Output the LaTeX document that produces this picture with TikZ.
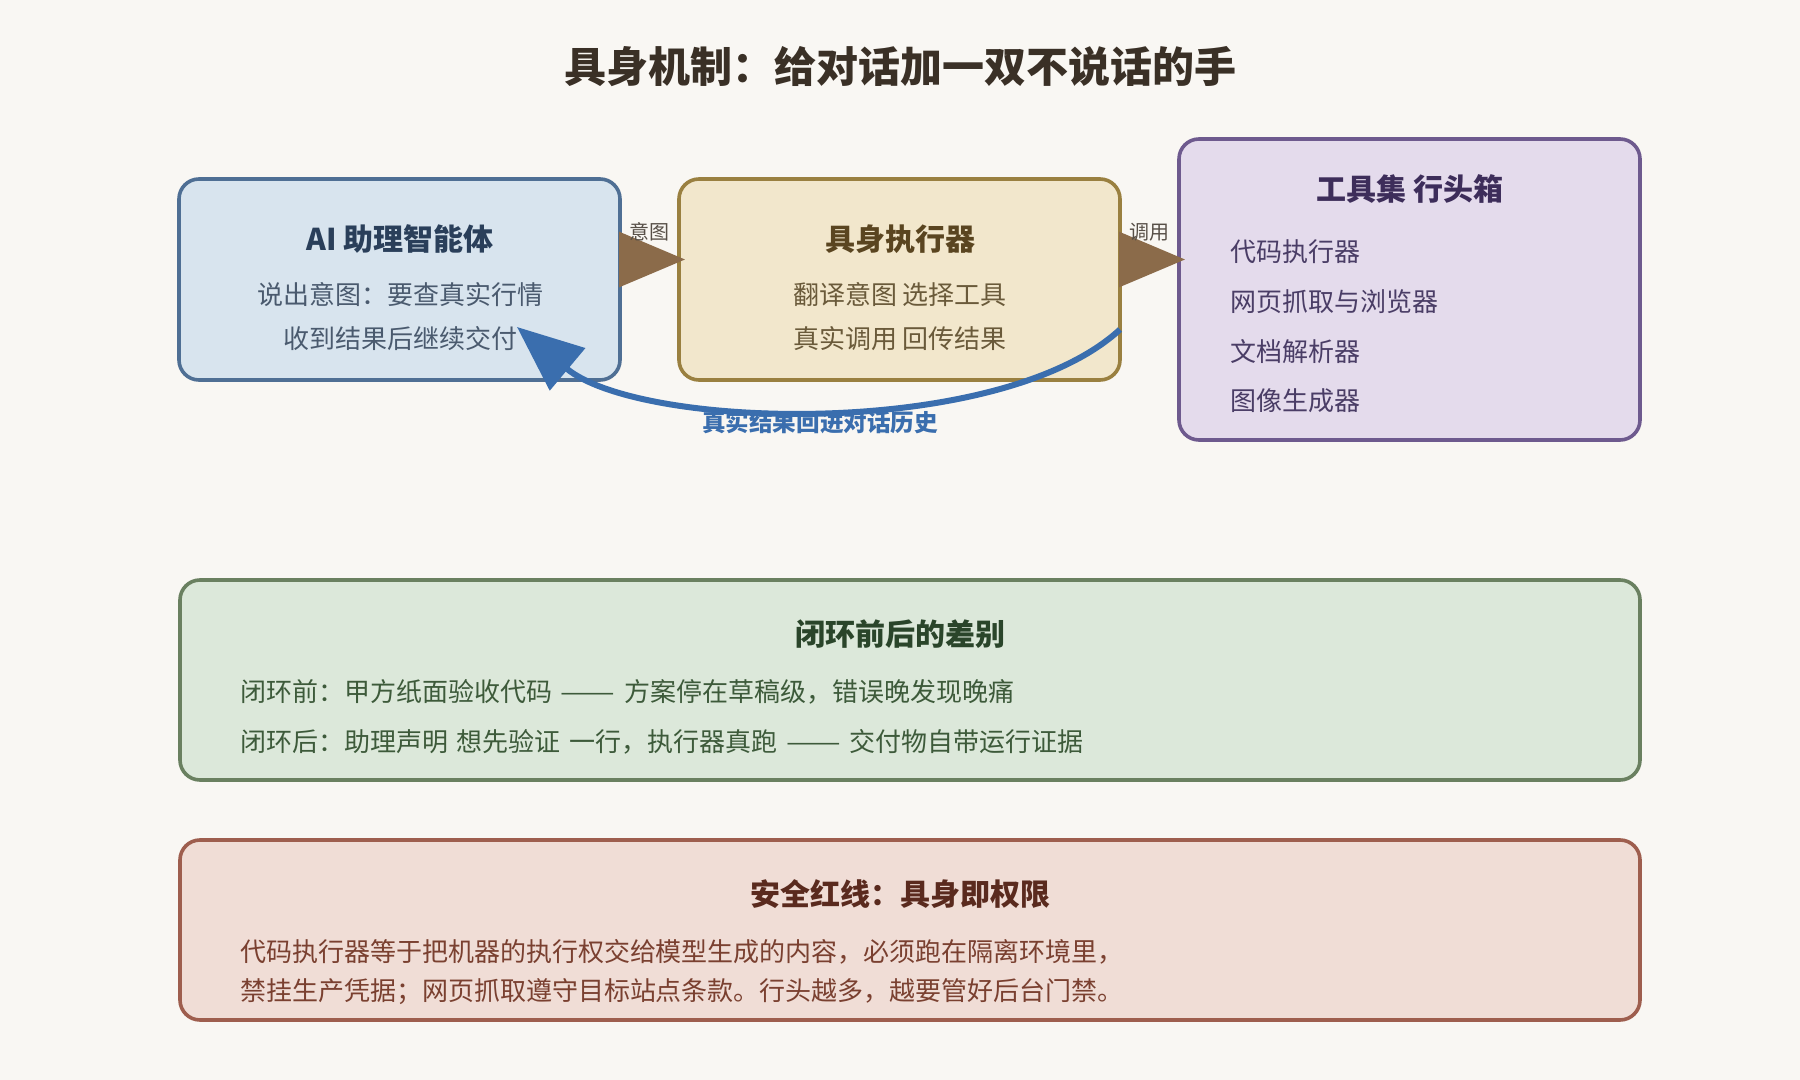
\documentclass[tikz,border=0pt]{standalone}
\usepackage{fontspec}
\setmainfont{Noto Sans CJK SC}
\usetikzlibrary{arrows.meta}
\definecolor{bg}{HTML}{F9F7F3}
\definecolor{ink}{HTML}{3A3026}
\definecolor{afill}{HTML}{D8E4EE}\definecolor{adraw}{HTML}{4F6F94}
\definecolor{atitle}{HTML}{2A3F5A}\definecolor{abody}{HTML}{4A5A6E}
\definecolor{bfill}{HTML}{F2E7CC}\definecolor{bdraw}{HTML}{9A8040}
\definecolor{btitle}{HTML}{5A4520}\definecolor{bbody}{HTML}{6A5A3A}
\definecolor{cfill}{HTML}{E4DBEC}\definecolor{cdraw}{HTML}{6E5A8E}
\definecolor{ctitle}{HTML}{3D2D5A}\definecolor{cbody}{HTML}{4A3D66}
\definecolor{gfill}{HTML}{DCE8DA}\definecolor{gdraw}{HTML}{6A8060}
\definecolor{gtitle}{HTML}{2A452A}\definecolor{gbody}{HTML}{3D5A3A}
\definecolor{rfill}{HTML}{F0DDD6}\definecolor{rdraw}{HTML}{9E5E4E}
\definecolor{rtitle}{HTML}{5A2A1E}\definecolor{rbody}{HTML}{7A4030}
\definecolor{arrbrown}{HTML}{8B6B4A}
\definecolor{arrblue}{HTML}{3A6EAE}
\newcommand{\wdash}{\resizebox{2.1em}{\height}{——}}
\newcommand{\wsp}{\hspace{0.34em}}
\begin{document}
\begin{tikzpicture}[x=0.5pt,y=-0.5pt,
  box/.style={rectangle, rounded corners=10pt, line width=1.8pt, outer sep=0pt, inner sep=0pt},
  txt/.style={inner sep=0pt, outer sep=0pt},
  ttl/.style={txt, font=\fontsize{15}{18}\selectfont\bfseries},
  bdy/.style={txt, font=\fontsize{13}{16}\selectfont},
  lbl/.style={txt, font=\fontsize{10}{12}\selectfont, text=ink!85},
  brownarrow/.style={draw=arrbrown, line width=1.5pt, -{Triangle[length=33pt,width=27.5pt]}, arrbrown},
  bluearrow/.style={draw=arrblue, line width=3pt, -{Triangle[length=33pt,width=27pt]}, arrblue}]
\fill[bg] (0,0) rectangle (1800,1080);
\useasboundingbox (0,0) rectangle (1800,1080);

\node[txt, text=ink, font=\fontsize{21}{25}\selectfont\bfseries] (title) at (900,67) {具身机制：给对话加一双不说话的手};

% boxes
\node[box, fill=afill, draw=adraw, minimum width=441*0.5pt, minimum height=201*0.5pt] (A) at (399.5,279.5) {};
\node[box, fill=bfill, draw=bdraw, minimum width=441*0.5pt, minimum height=201*0.5pt] (B) at (899.5,279.5) {};
\node[box, fill=cfill, draw=cdraw, minimum width=461*0.5pt, minimum height=301*0.5pt] (C) at (1409.5,289.5) {};
\node[box, fill=gfill, draw=gdraw, minimum width=1460*0.5pt, minimum height=200*0.5pt] (G) at (910,680) {};
\node[box, fill=rfill, draw=rdraw, minimum width=1460*0.5pt, minimum height=180*0.5pt] (R) at (910,930) {};

% box A
\node[ttl, text=atitle] (Atitle) at (400,239) {AI 助理智能体};
\node[bdy, text=abody] (A1) at (400,295) {说出意图：要查真实行情};
\node[bdy, text=abody] (A2) at (400,339) {收到结果后继续交付};

% box B
\node[ttl, text=btitle] (Btitle) at (900,239) {具身执行器};
\node[bdy, text=bbody] (B1) at (900,295) {翻译意图 选择工具};
\node[bdy, text=bbody] (B2) at (900,339) {真实调用 回传结果};

% box C
\node[ttl, text=ctitle] (Ctitle) at (1410,189) {工具集 行头箱};
\node[bdy, text=cbody, anchor=west] (C1) at (1230,252) {代码执行器};
\node[bdy, text=cbody, anchor=west] (C2) at (1230,302) {网页抓取与浏览器};
\node[bdy, text=cbody, anchor=west] (C3) at (1230,352) {文档解析器};
\node[bdy, text=cbody, anchor=west] (C4) at (1230,401) {图像生成器};

% green box
\node[ttl, text=gtitle] (Gtitle) at (900,634) {闭环前后的差别};
\node[bdy, text=gbody, anchor=west] (G1) at (240,692) {闭环前：甲方纸面验收代码\wsp{}\wdash{}\wsp{}方案停在草稿级，错误晚发现晚痛};
\node[bdy, text=gbody, anchor=west] (G2) at (240,742) {闭环后：助理声明\wsp{}想先验证\wsp{}一行，执行器真跑\wsp{}\wdash{}\wsp{}交付物自带运行证据};

% red box
\node[ttl, text=rtitle] (Rtitle) at (900,894) {安全红线：具身即权限};
\node[bdy, text=rbody, anchor=west] (R1) at (240,952) {代码执行器等于把机器的执行权交给模型生成的内容，必须跑在隔离环境里，};
\node[bdy, text=rbody, anchor=west] (R2) at (240,992) {禁挂生产凭据；网页抓取遵守目标站点条款。行头越多，越要管好后台门禁。};

% brown arrows
\coordinate (ab1) at ([yshift=10pt]A.east);
\coordinate (ab2) at ([yshift=10pt,xshift=3pt]B.west);
\draw[brownarrow] (ab1) -- (ab2);
\node[lbl] (abl) at (649,232) {意图};

\coordinate (bc1) at ([yshift=10pt]B.east);
\coordinate (bc0) at (bc1 -| C.west);
\coordinate (bc2) at ([xshift=3pt]bc0);
\draw[brownarrow] (bc1) -- (bc2);
\node[lbl] (bcl) at (1149,232) {调用};

% blue return arrow
\coordinate (ret1) at ([yshift=-25pt]B.east);
\coordinate (ret2) at ([xshift=58.75pt,yshift=26.5pt]A.south);
\draw[bluearrow] (ret1) .. controls (1000,440) and (640,430) .. (ret2);
\node[txt, text=arrblue, font=\fontsize{11.8}{14}\selectfont\bfseries] (retl) at (820,422) {真实结果回进对话历史};
\end{tikzpicture}
\end{document}
